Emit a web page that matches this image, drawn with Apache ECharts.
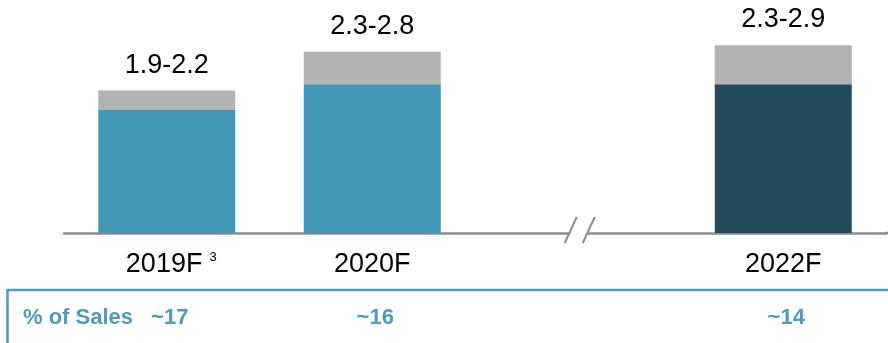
<!DOCTYPE html>
<html>
<head>
<meta charset="utf-8">
<script src="https://cdn.jsdelivr.net/npm/echarts@6/dist/echarts.min.js"></script>
<style>
  html, body { margin: 0; padding: 0; background: #ffffff; }
  #chart { width: 888px; height: 343px; }
</style>
</head>
<body>
<div id="chart"></div>
<script>
// Capex outlook (bn): low end of range plus the spread up to the high end.
const categories = ['2019F', '2020F', '', '2022F'];
const rangeLow = [1.9, 2.3, null, 2.3];
const rangeHigh = [2.2, 2.8, null, 2.9];
const footnotes = ['3', '', '', ''];
const pctOfSales = ['~17', '~16', '', '~14'];
const pctRowTitle = '% of Sales';
const breakCategory = '';

const BLUE = '#4397b6';
const DARK = '#224c5c';
const GREY = '#b3b3b3';
const ROW_BLUE = '#4a9dbe';
const AXIS_GREY = '#8c8c8c';
const FONT = '"Liberation Sans", Arial, sans-serif';

const baseColors = categories.map(c => c === '2022F' ? DARK : BLUE);
const baseData = rangeLow.map((v, i) => v == null ? null : { value: v, itemStyle: { color: baseColors[i] } });
const spreadData = rangeLow.map((v, i) =>
  v == null ? null : +(rangeHigh[i] - v).toFixed(2));
const rangeText = rangeLow.map((v, i) => v == null ? '' : v.toFixed(1) + '-' + rangeHigh[i].toFixed(1));

const chart = echarts.init(document.getElementById('chart'), null, { renderer: 'canvas' });

chart.setOption({
  animation: false,
  backgroundColor: '#ffffff',
  grid: { left: 64, right: 2, top: 0, bottom: 110, containLabel: false },
  xAxis: [
    {
      type: 'category',
      data: categories,
      position: 'bottom',
      axisLine: { show: true, lineStyle: { color: AXIS_GREY, width: 2.5 } },
      axisTick: { show: false },
      axisLabel: {
        margin: 18,
        fontFamily: FONT,
        formatter: (value, idx) => {
          const note = footnotes[idx];
          return note ? '{pad|}{main|' + value + '}{sup|' + note + '}' : '{main|' + value + '}';
        },
        rich: {
          main: { fontSize: 27, color: '#000000', fontFamily: FONT },
          pad: { width: 9 },
          sup: { fontSize: 13, color: '#000000', fontFamily: FONT, verticalAlign: 'top', padding: [0, 0, 0, 7] }
        }
      }
    },
    {
      type: 'category',
      data: categories,
      position: 'bottom',
      offset: 0,
      axisLine: { show: false },
      axisTick: { show: false },
      axisLabel: {
        margin: 74,
        fontFamily: FONT,
        fontSize: 22,
        fontWeight: 'bold',
        color: ROW_BLUE,
        padding: [0, 0, 0, 6],
        formatter: (value, idx) => pctOfSales[idx]
      }
    }
  ],
  yAxis: {
    type: 'value',
    min: 0,
    max: 3.6,
    show: false,
    splitLine: { show: false }
  },
  series: [
    {
      name: 'Low',
      type: 'bar',
      stack: 'range',
      barWidth: 137,
      data: baseData
    },
    {
      name: 'Spread',
      type: 'bar',
      stack: 'range',
      barWidth: 137,
      itemStyle: { color: GREY },
      data: spreadData,
      label: {
        show: true,
        position: 'top',
        distance: 12,
        fontFamily: FONT,
        fontSize: 27,
        color: '#000000',
        formatter: p => rangeText[p.dataIndex]
      }
    },
    {
      // axis break marker in the empty slot, plus the axis tail past the grid edge
      name: 'Break',
      type: 'custom',
      z: 5,
      data: [[categories.indexOf(breakCategory), 0]],
      encode: { x: 0, y: 1 },
      renderItem: (params, api) => {
        const p = api.coord([api.value(0), 0]);
        const cx = p[0], cy = p[1];
        const stroke = { stroke: AXIS_GREY, lineWidth: 2 };
        return {
          type: 'group',
          children: [
            { type: 'rect', shape: { x: cx - 8, y: cy - 4, width: 18, height: 8 }, style: { fill: '#ffffff' } },
            { type: 'line', shape: { x1: cx - 13, y1: cy + 10, x2: cx - 1, y2: cy - 16 }, style: stroke },
            { type: 'line', shape: { x1: cx + 5, y1: cy + 10, x2: cx + 17, y2: cy - 16 }, style: stroke },
            { type: 'line', shape: { x1: params.coordSys.x + params.coordSys.width - 1, y1: cy, x2: params.coordSys.x + params.coordSys.width + 3, y2: cy }, style: { stroke: AXIS_GREY, lineWidth: 2.5 } }
          ]
        };
      }
    }
  ],
  graphic: [
    {
      type: 'polyline',
      shape: { points: [[7.5, 345], [7.5, 290], [890, 290]] },
      style: { stroke: ROW_BLUE, lineWidth: 2.5, fill: null }
    },
    {
      type: 'text',
      left: 23,
      top: 307,
      style: { text: pctRowTitle, fontFamily: FONT, fontSize: 22, fontWeight: 'bold', fill: ROW_BLUE }
    }
  ]
});
</script>
</body>
</html>
